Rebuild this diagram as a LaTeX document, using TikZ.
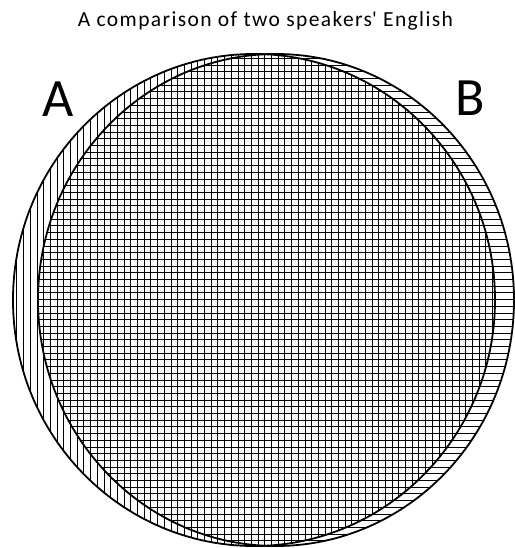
\documentclass[tikz,border=0pt]{standalone}
\usepackage{fontspec}
\setmainfont{Carlito}
\newfontfamily\titlefont[LetterSpace=6.5]{Carlito}
\begin{document}
\begin{tikzpicture}[x=1pt,y=-1pt,
  hatch/.style={line width=0.9pt},
  outline/.style={line width=1.8pt},
  biglabel/.style={anchor=base,inner sep=0pt,font=\fontsize{54}{60}\selectfont}]
\useasboundingbox (0,0) rectangle (514,548);
% A: vertical hatching
\begin{scope}
  \clip (254,300) ellipse [x radius=241pt, y radius=246pt];
  \foreach \i in {0,...,75} \draw[hatch] ({3.5+6.7*\i},40) -- ({3.5+6.7*\i},560);
\end{scope}
% B: horizontal hatching
\begin{scope}
  \clip (276,300) ellipse [x radius=238pt, y radius=246pt];
  \foreach \i in {0,...,80} \draw[hatch] (20,{45+6.7*\i}) -- (530,{45+6.7*\i});
\end{scope}
\draw[outline] (254,300) ellipse [x radius=241pt, y radius=246pt];
\draw[outline] (276,300) ellipse [x radius=238pt, y radius=246pt];
\node[anchor=base,inner sep=0pt,font=\titlefont\fontsize{21.5}{25}\selectfont] (title) at (265.5,27) {A comparison of two speakers\textquotesingle{} English};
\node[biglabel] (labA) at (58,117) {A};
\node[biglabel] (labB) at (470,116) {B};
\end{tikzpicture}
\end{document}
